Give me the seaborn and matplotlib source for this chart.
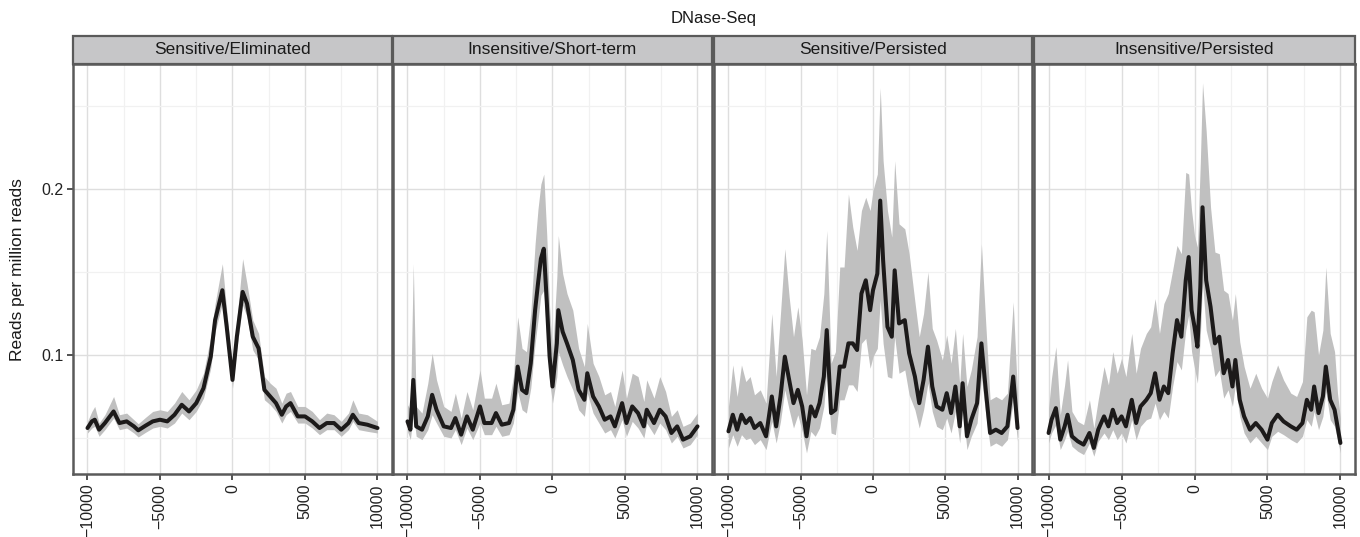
import numpy as np
import pandas as pd
import matplotlib
matplotlib.use("Agg")
import matplotlib.pyplot as plt
import seaborn as sns
from matplotlib.patches import Rectangle

# ---------------- data ----------------
panels = ["Sensitive/Eliminated", "Insensitive/Short-term",
          "Sensitive/Persisted", "Insensitive/Persisted"]

x1 = [-10000,-9700,-9500,-9200,-8800,-8200,-7800,-7300,-6800,-6500,-6000,-5500,-5000,-4500,-4000,-3500,-3000,-2500,-2000,-1500,-1200,-700,-400,0,300,700,1000,1400,1800,2200,2600,3000,3400,3700,4000,4500,5000,5500,6000,6500,7000,7500,8000,8300,8700,9300,10000]
y1 = [0.056,0.060,0.061,0.055,0.059,0.066,0.059,0.060,0.057,0.0546,0.0574,0.060,0.061,0.060,0.064,0.070,0.066,0.071,0.080,0.099,0.121,0.139,0.117,0.085,0.111,0.138,0.131,0.111,0.104,0.079,0.075,0.071,0.064,0.069,0.071,0.063,0.063,0.060,0.056,0.059,0.059,0.055,0.059,0.064,0.059,0.058,0.056]
up1 = [0.004,0.006,0.008,0.004,0.005,0.009,0.005,0.005,0.004,0.004,0.005,0.006,0.006,0.006,0.007,0.008,0.007,0.008,0.009,0.012,0.010,0.016,0.010,0.007,0.010,0.020,0.012,0.010,0.009,0.008,0.008,0.009,0.007,0.008,0.007,0.006,0.006,0.006,0.005,0.006,0.005,0.005,0.006,0.009,0.006,0.006,0.004]
dn1 = [0.003,0.004,0.004,0.004,0.004,0.004,0.004,0.004,0.004,0.004,0.004,0.004,0.004,0.004,0.005,0.005,0.005,0.005,0.006,0.007,0.007,0.008,0.007,0.005,0.007,0.008,0.008,0.008,0.007,0.006,0.005,0.005,0.005,0.005,0.005,0.004,0.004,0.004,0.004,0.004,0.004,0.004,0.004,0.004,0.004,0.004,0.003]

x2 = [-10000,-9800,-9600,-9400,-9000,-8600,-8300,-8000,-7500,-7000,-6700,-6300,-5900,-5500,-5000,-4700,-4200,-3900,-3500,-3000,-2700,-2400,-2100,-1800,-1500,-1200,-1000,-800,-600,-400,-200,0,300,400,700,1000,1400,1800,2200,2400,2800,3200,3600,4000,4300,4800,5100,5500,5900,6300,6500,7000,7400,7800,8200,8600,9000,9500,10000]
y2 = [0.060,0.055,0.085,0.057,0.055,0.063,0.076,0.067,0.057,0.056,0.062,0.052,0.063,0.055,0.069,0.059,0.059,0.065,0.058,0.059,0.067,0.093,0.079,0.077,0.095,0.127,0.143,0.158,0.164,0.133,0.099,0.081,0.107,0.127,0.114,0.107,0.097,0.079,0.073,0.089,0.075,0.069,0.061,0.063,0.057,0.071,0.059,0.069,0.065,0.057,0.067,0.059,0.067,0.063,0.053,0.057,0.049,0.051,0.057]
up2 = [0.010,0.012,0.070,0.012,0.010,0.020,0.025,0.018,0.012,0.010,0.015,0.010,0.015,0.012,0.022,0.015,0.015,0.018,0.012,0.012,0.020,0.030,0.025,0.025,0.030,0.040,0.045,0.045,0.045,0.040,0.030,0.020,0.040,0.045,0.035,0.030,0.030,0.025,0.020,0.030,0.020,0.018,0.015,0.015,0.012,0.020,0.015,0.020,0.022,0.015,0.018,0.015,0.020,0.015,0.010,0.010,0.008,0.008,0.008]
dn2 = [0.006,0.006,0.020,0.006,0.006,0.008,0.012,0.008,0.006,0.006,0.007,0.006,0.007,0.006,0.010,0.007,0.007,0.008,0.007,0.007,0.008,0.015,0.012,0.012,0.015,0.020,0.022,0.022,0.025,0.022,0.015,0.010,0.020,0.025,0.020,0.020,0.018,0.012,0.010,0.012,0.010,0.010,0.008,0.008,0.007,0.010,0.008,0.009,0.009,0.007,0.008,0.007,0.008,0.008,0.006,0.006,0.005,0.005,0.005]

x3 = [-10000,-9700,-9400,-9100,-8800,-8500,-8200,-7800,-7400,-7000,-6700,-6400,-6100,-5800,-5500,-5200,-4900,-4600,-4300,-4000,-3700,-3400,-3200,-2900,-2600,-2300,-2000,-1700,-1400,-1100,-800,-500,-200,0,300,500,700,1000,1300,1500,1800,2200,2500,2900,3200,3500,3800,4100,4400,4800,5100,5400,5700,6000,6200,6500,6800,7200,7500,7800,8100,8500,8900,9300,9700,10000]
y3 = [0.054,0.064,0.055,0.064,0.059,0.062,0.056,0.059,0.051,0.075,0.057,0.075,0.099,0.085,0.071,0.079,0.069,0.051,0.069,0.063,0.071,0.087,0.115,0.065,0.067,0.093,0.093,0.107,0.107,0.103,0.137,0.145,0.127,0.139,0.149,0.193,0.157,0.117,0.111,0.151,0.119,0.121,0.101,0.087,0.071,0.085,0.105,0.081,0.069,0.067,0.077,0.065,0.081,0.057,0.083,0.051,0.061,0.071,0.107,0.079,0.053,0.055,0.053,0.057,0.087,0.056]
up3 = [0.015,0.030,0.020,0.030,0.025,0.025,0.020,0.020,0.020,0.050,0.030,0.050,0.065,0.050,0.040,0.050,0.040,0.025,0.035,0.040,0.040,0.050,0.060,0.030,0.035,0.060,0.060,0.090,0.070,0.060,0.050,0.050,0.060,0.060,0.060,0.068,0.060,0.070,0.060,0.066,0.060,0.055,0.060,0.045,0.040,0.040,0.045,0.035,0.040,0.030,0.035,0.030,0.035,0.025,0.030,0.030,0.030,0.040,0.060,0.040,0.020,0.020,0.020,0.020,0.045,0.020]
dn3 = [0.010,0.012,0.010,0.012,0.010,0.012,0.010,0.010,0.008,0.015,0.010,0.015,0.020,0.018,0.015,0.015,0.015,0.010,0.015,0.012,0.015,0.018,0.025,0.012,0.015,0.020,0.020,0.025,0.025,0.025,0.030,0.035,0.035,0.040,0.045,0.060,0.050,0.030,0.025,0.040,0.030,0.030,0.025,0.020,0.015,0.018,0.022,0.015,0.012,0.012,0.015,0.012,0.015,0.010,0.015,0.008,0.010,0.012,0.020,0.015,0.008,0.008,0.008,0.008,0.015,0.008]

x4 = [-10000,-9800,-9500,-9200,-8900,-8700,-8400,-8000,-7600,-7200,-6900,-6600,-6200,-5900,-5600,-5300,-5000,-4700,-4300,-4000,-3700,-3300,-3000,-2700,-2400,-2100,-1800,-1500,-1200,-900,-600,-400,-200,0,200,400,550,800,1100,1400,1700,2000,2300,2600,2800,3100,3400,3800,4200,4600,5000,5300,5700,6100,6600,7000,7400,7700,8000,8200,8500,8800,9000,9300,9600,9800,10000]
y4 = [0.053,0.061,0.068,0.049,0.057,0.064,0.051,0.048,0.046,0.053,0.044,0.055,0.063,0.057,0.067,0.059,0.063,0.057,0.073,0.059,0.069,0.073,0.077,0.089,0.073,0.081,0.077,0.101,0.121,0.111,0.145,0.159,0.127,0.117,0.105,0.141,0.189,0.145,0.129,0.107,0.111,0.089,0.097,0.081,0.097,0.073,0.063,0.055,0.059,0.055,0.049,0.059,0.064,0.060,0.057,0.055,0.059,0.073,0.067,0.081,0.065,0.075,0.093,0.073,0.067,0.057,0.047]
up4 = [0.015,0.025,0.037,0.015,0.025,0.033,0.015,0.012,0.012,0.020,0.012,0.018,0.030,0.025,0.035,0.030,0.035,0.030,0.040,0.030,0.035,0.040,0.040,0.045,0.040,0.050,0.060,0.050,0.045,0.050,0.065,0.050,0.060,0.055,0.060,0.075,0.075,0.090,0.060,0.055,0.050,0.050,0.040,0.040,0.040,0.035,0.030,0.025,0.030,0.025,0.025,0.025,0.030,0.025,0.020,0.020,0.025,0.050,0.060,0.045,0.035,0.040,0.060,0.040,0.035,0.020,0.015]
dn4 = [0.006,0.008,0.010,0.006,0.008,0.010,0.006,0.006,0.006,0.006,0.005,0.007,0.010,0.008,0.012,0.010,0.010,0.010,0.012,0.010,0.012,0.012,0.015,0.018,0.012,0.015,0.015,0.020,0.025,0.020,0.030,0.035,0.025,0.025,0.022,0.030,0.045,0.030,0.025,0.020,0.020,0.015,0.018,0.012,0.015,0.010,0.010,0.008,0.008,0.008,0.006,0.008,0.010,0.008,0.008,0.008,0.008,0.012,0.010,0.015,0.010,0.012,0.015,0.012,0.010,0.008,0.006]

x_ticks = [-10000, -5000, 0, 5000, 10000]
y_ticks = [0.1, 0.2]
title = "DNase-Seq"
y_label = "Reads per million reads"

# ---------------- build the long table ----------------
frames = []
for name, xs, ys, us, ds in zip(panels, [x1, x2, x3, x4], [y1, y2, y3, y4],
                                [up1, up2, up3, up4], [dn1, dn2, dn3, dn4]):
    xs, ys, us, ds = map(np.asarray, (xs, ys, us, ds))
    frames.append(pd.DataFrame({"panel": name, "pos": xs, "rpm": ys,
                                "hi": ys + us, "lo": ys - ds}))
df = pd.concat(frames, ignore_index=True)

# ---------------- style ----------------
sns.set_theme(style="white")
plt.rcParams["font.family"] = ["Liberation Sans", "DejaVu Sans"]

W, H = 1360, 537
fig = plt.figure(figsize=(W / 100, H / 100), dpi=100)

lefts = [73, 393, 714, 1034]
widths = [319, 319, 318, 321]
top_px, bot_px, strip_px = 64, 474, 28
border_col = "#5a5a5a"

for i, name in enumerate(panels):
    ax = fig.add_axes([lefts[i] / W, 1 - bot_px / H, widths[i] / W, (bot_px - top_px) / H])
    sub = df[df["panel"] == name]
    ax.fill_between(sub["pos"], sub["lo"], sub["hi"], color="#c0c0c0", lw=0, zorder=2)
    sns.lineplot(data=sub, x="pos", y="rpm", ax=ax, color="#1c1a1a", lw=2.9,
                 zorder=3, legend=False)
    ax.set_xlim(-11000, 11000)
    ax.set_ylim(0.0283, 0.2753)
    ax.set_xticks(x_ticks)
    ax.set_xticks([-7500, -2500, 2500, 7500], minor=True)
    ax.set_yticks(y_ticks)
    ax.set_yticks([0.05, 0.15, 0.25], minor=True)
    ax.grid(True, which="major", color="#dedede", lw=1.0, zorder=0)
    ax.grid(True, which="minor", color="#f1f1f1", lw=0.9, zorder=0)
    ax.set_axisbelow(True)
    ax.set_xlabel("")
    ax.set_ylabel("")
    ax.set_xticklabels([str(t) if t >= 0 else "\u2212" + str(-t) for t in x_ticks],
                       rotation=90, fontsize=11.5, color="#222222")
    ax.tick_params(axis="x", which="major", direction="out", length=4, width=1.2,
                   color="#333333", pad=3, bottom=True)
    ax.tick_params(axis="both", which="minor", length=0)
    if i == 0:
        ax.set_yticklabels(["0.1", "0.2"], fontsize=11.5, color="#222222")
        ax.tick_params(axis="y", which="major", direction="out", length=4, width=1.2,
                       color="#333333", left=True, pad=3)
    else:
        ax.set_yticklabels([])
        ax.tick_params(axis="y", which="major", length=0)
    for sp in ax.spines.values():
        sp.set_visible(True)
        sp.set_color(border_col)
        sp.set_linewidth(1.8)
    # strip
    strip = Rectangle((0, 1), 1, strip_px / (bot_px - top_px), transform=ax.transAxes,
                      facecolor="#c6c6c8", edgecolor=border_col, lw=1.6, clip_on=False,
                      zorder=5)
    ax.add_patch(strip)
    ax.text(0.5, 1 + strip_px / 2 / (bot_px - top_px), name, transform=ax.transAxes,
            ha="center", va="center", fontsize=12.5, color="#1a1a1a", zorder=6)

fig.text(714 / W, 1 - 18 / H, title, ha="center", va="center", fontsize=12, color="#1a1a1a")
fig.text(18 / W, 1 - 270 / H, y_label, ha="center", va="center", rotation=90,
         fontsize=12.5, color="#1a1a1a")

fig.savefig("out.png", dpi=100)
